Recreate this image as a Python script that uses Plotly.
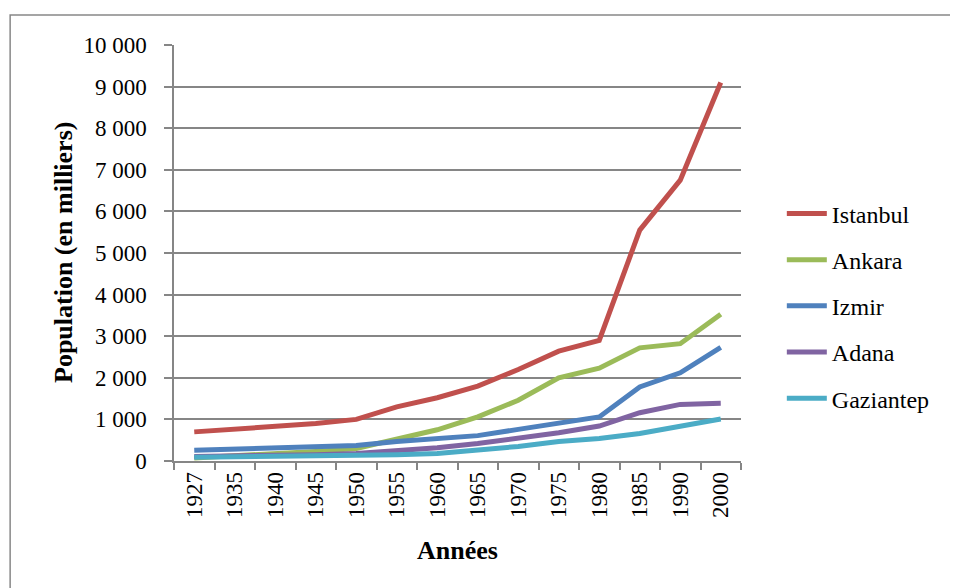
import plotly.graph_objects as go

years = ["1927", "1935", "1940", "1945", "1950", "1955", "1960", "1965",
         "1970", "1975", "1980", "1985", "1990", "2000"]
istanbul = [700, 760, 820, 900, 1000, 1300, 1520, 1800, 2200, 2640, 2900, 5550, 6750, 9100]
ankara = [75, 120, 160, 230, 300, 520, 750, 1060, 1460, 2000, 2230, 2720, 2820, 3530]
izmir = [260, 290, 310, 330, 370, 470, 550, 610, 760, 920, 1060, 1780, 2120, 2730]
adana = [110, 120, 130, 150, 180, 240, 320, 420, 540, 680, 840, 1160, 1360, 1390]
gaziantep = [90, 100, 105, 115, 130, 150, 180, 250, 350, 470, 540, 660, 820, 1010]

names = ["Istanbul", "Ankara", "Izmir", "Adana", "Gaziantep"]
series = [istanbul, ankara, izmir, adana, gaziantep]
colors = ["#C0504D", "#9BBB59", "#4F81BD", "#8064A2", "#4BACC6"]

FONT = "Liberation Serif"
fig = go.Figure()
for n, s, c in zip(names, series, colors):
    fig.add_trace(go.Scatter(x=years, y=s, mode="lines", name=n, legendgroup=n,
                             line=dict(color=c, width=5)))

fig.update_layout(
    width=950, height=580,
    margin=dict(l=166, r=217, t=37, b=127),
    paper_bgcolor="white", plot_bgcolor="white",
    separators=". ",
    font=dict(family=FONT, size=22, color="black"),
    showlegend=True,
    legend=dict(x=1.072, xanchor="left", y=0.373, yanchor="middle",
                font=dict(size=24, family=FONT), tracegroupgap=12,
                itemwidth=40, bgcolor="rgba(0,0,0,0)"),
    xaxis=dict(type="category", range=[-0.5, 13.5], showgrid=False,
               showline=True, linecolor="#868686", linewidth=1.5,
               ticks="outside", tickson="boundaries", ticklen=7,
               tickcolor="#868686", tickwidth=1.5, tickangle=-90,
               tickfont=dict(size=23, family=FONT)),
    yaxis=dict(range=[0, 10000], dtick=1000, tickformat=",",
               showgrid=True, gridcolor="#868686", gridwidth=1.5,
               showline=True, linecolor="#868686", linewidth=1.5,
               ticks="outside", ticklen=8, tickcolor="#868686", tickwidth=1.5,
               ticklabelstandoff=13,
               zeroline=False, tickfont=dict(size=23, family=FONT)),
    shapes=[dict(type="rect", xref="paper", yref="paper",
                 x0=-0.289, x1=1.377, y0=-0.4, y1=1.072,
                 line=dict(color="#888888", width=1.5))],
    annotations=[
        dict(text="<b>Population (en milliers)</b>", textangle=-90,
             xref="paper", yref="paper", x=(63 - 174) / 567, y=0.5, xanchor="center",
             yanchor="middle", showarrow=False, font=dict(size=26, family=FONT)),
        dict(text="<b>Années</b>", xref="paper", yref="paper", x=0.5,
             y=(461 - 550) / 416, xanchor="center",
             yanchor="middle", showarrow=False,
             font=dict(size=26, family=FONT)),
    ],
)

fig.write_html("out.html")
